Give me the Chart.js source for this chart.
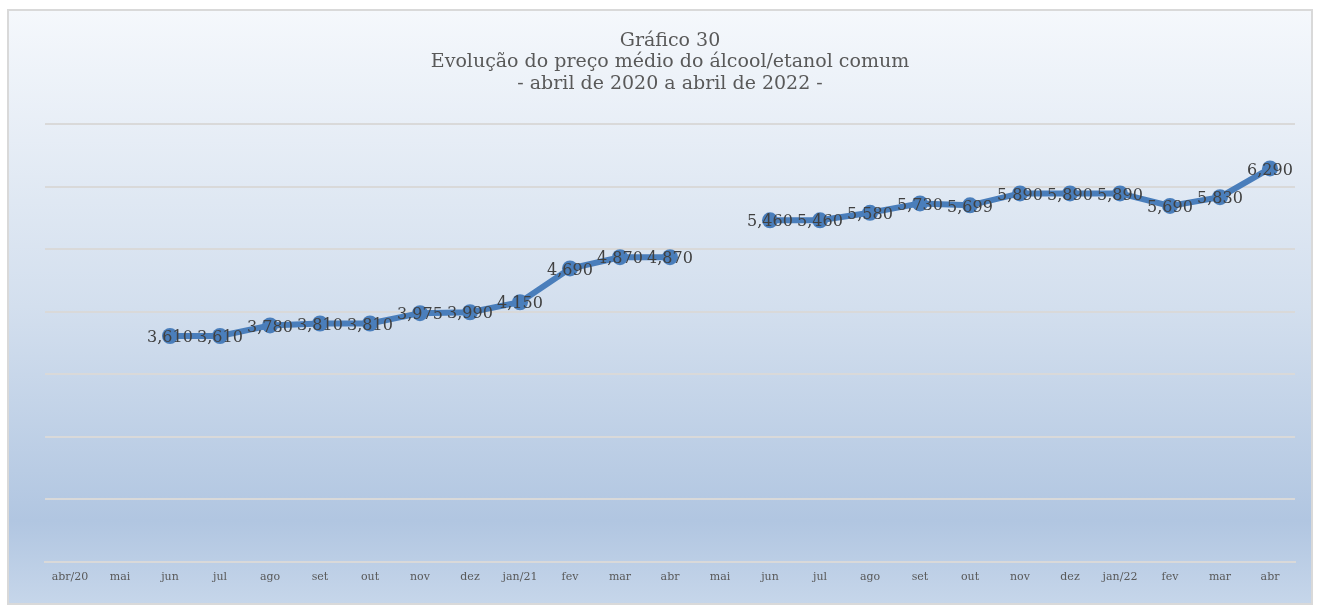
<!DOCTYPE html>
<html>
<head>
<meta charset="utf-8">
<script src="https://cdn.jsdelivr.net/npm/chart.js@4"></script>
<style>
    body { margin: 0; background: #ffffff; }
    #wrap { position: relative; width: 1320px; height: 610px; }
</style>
</head>
<body>
<div id="wrap"><canvas id="etanol-chart" width="1320" height="610"></canvas></div>
<script>
const months = ['abr/20', 'mai', 'jun', 'jul', 'ago', 'set', 'out', 'nov', 'dez', 'jan/21', 'fev', 'mar', 'abr',
    'mai', 'jun', 'jul', 'ago', 'set', 'out', 'nov', 'dez', 'jan/22', 'fev', 'mar', 'abr'];
const prices = [null, null, 3.610, 3.610, 3.780, 3.810, 3.810, 3.975, 3.990, 4.150, 4.690, 4.870, 4.870,
    null, 5.460, 5.460, 5.580, 5.730, 5.699, 5.890, 5.890, 5.890, 5.690, 5.830, 6.290];
const titleLines = ['Gráfico 30', 'Evolução do preço médio do álcool/etanol comum', '- abril de 2020 a abril de 2022 -'];

const SERIF = '"DejaVu Serif", serif';

// background panel with the soft blue gradient and thin frame
const panel = {
    id: 'panel',
    beforeDraw(chart) {
        const ctx = chart.ctx;
        const x = 8, y = 10, w = 1304, h = 594;
        const g = ctx.createLinearGradient(0, y, 0, y + h);
        g.addColorStop(0, '#f5f8fc');
        g.addColorStop(0.5, '#d3dfee');
        g.addColorStop(0.86, '#b1c6e1');
        g.addColorStop(1, '#c6d6ea');
        ctx.save();
        ctx.fillStyle = g;
        ctx.fillRect(x, y, w, h);
        ctx.strokeStyle = '#d9d9d9';
        ctx.lineWidth = 2;
        ctx.strokeRect(x, y, w, h);
        ctx.restore();
    }
};

// value labels centred on each point
const valueLabels = {
    id: 'valueLabels',
    afterDatasetsDraw(chart) {
        const ctx = chart.ctx;
        const meta = chart.getDatasetMeta(0);
        ctx.save();
        ctx.font = '16px ' + SERIF;
        ctx.fillStyle = '#404040';
        ctx.textAlign = 'center';
        ctx.textBaseline = 'middle';
        meta.data.forEach((pt, i) => {
            const v = prices[i];
            if (v === null) return;
            ctx.fillText(v.toFixed(3).replace('.', ','), pt.x, pt.y + 2);
        });
        ctx.restore();
    }
};

new Chart(document.getElementById('etanol-chart'), {
    type: 'line',
    data: {
        labels: months,
        datasets: [{
            data: prices,
            borderColor: '#4a7ebb',
            backgroundColor: '#4a7ebb',
            borderWidth: 6,
            pointRadius: 8,
            pointBorderWidth: 0,
            pointBackgroundColor: '#4a7ebb',
            spanGaps: false,
            tension: 0
        }]
    },
    options: {
        responsive: false,
        animation: false,
        layout: { padding: { top: 30, left: 45, right: 25, bottom: 17 } },
        plugins: {
            legend: { display: false },
            tooltip: { enabled: false },
            title: {
                display: true,
                text: titleLines,
                color: '#595959',
                font: { family: SERIF, size: 19, weight: 'normal', lineHeight: 1.14 },
                padding: { top: 0, bottom: 29 }
            }
        },
        scales: {
            x: {
                offset: true,
                grid: { display: false, drawTicks: false },
                border: { display: true, color: '#d9d9d9', width: 2 },
                ticks: {
                    color: '#595959',
                    font: { family: SERIF, size: 11 },
                    padding: 9,
                    maxRotation: 0,
                    autoSkip: false
                }
            },
            y: {
                min: 0,
                max: 7,
                grid: { color: '#d9d9d9', lineWidth: 2, drawTicks: false },
                border: { display: false },
                ticks: { display: false, stepSize: 1 }
            }
        }
    },
    plugins: [panel, valueLabels]
});
</script>
</body>
</html>
